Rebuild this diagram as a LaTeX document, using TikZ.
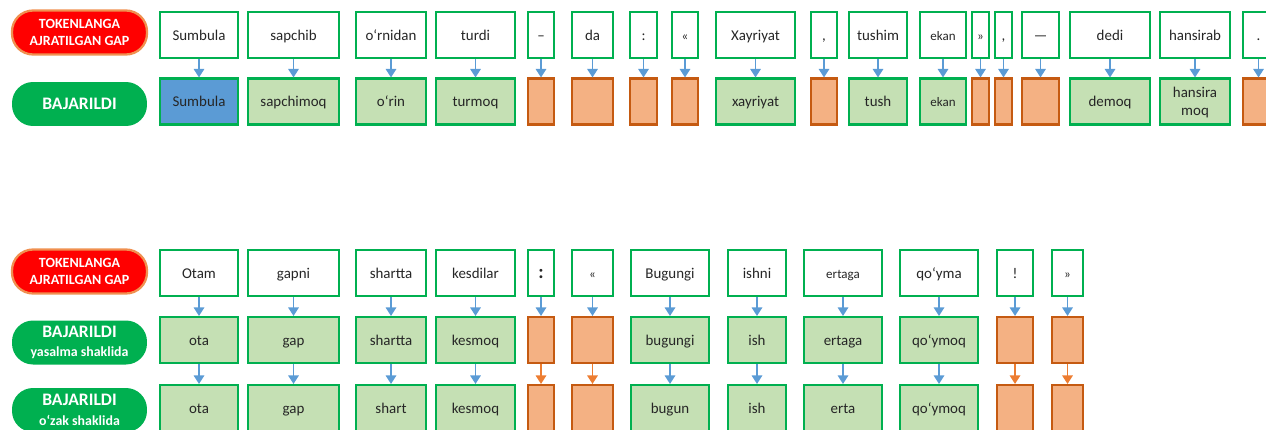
\documentclass[tikz,border=0pt]{standalone}
\usepackage{fontspec}
\setmainfont{Carlito}
\usetikzlibrary{arrows.meta}

\definecolor{okgreen}{HTML}{00B050}
\definecolor{lightgreen}{HTML}{C5E0B4}
\definecolor{skyblue}{HTML}{5B9BD5}
\definecolor{peach}{HTML}{F4B183}
\definecolor{rust}{HTML}{C55A11}
\definecolor{tangerine}{HTML}{ED7D31}
\definecolor{ink}{HTML}{262626}

\tikzset{
  cell/.style={draw=okgreen, line width=1.2pt, inner sep=0pt, minimum height=0.92cm,
    text height=1.5ex, text depth=.3ex, align=center, text=ink,
    font=\fontsize{8.5}{10}\selectfont},
  word/.style={cell, fill=white},
  found/.style={cell, fill=lightgreen},
  proper/.style={cell, fill=skyblue},
  punct/.style={cell, draw=rust, fill=peach},
  pill/.style={rounded corners=0.42cm, minimum width=2.7cm, minimum height=0.88cm,
    text=white, align=center, inner sep=0pt},
  redpill/.style={pill, fill=red, draw=tangerine!85, line width=1.3pt},
  greenpill/.style={pill, fill=okgreen},
  link/.style={-{Triangle[width=0.21cm,length=0.17cm]}, line width=0.8pt, draw=skyblue},
  found link/.style={link},
  punct link/.style={link, draw=tangerine},
}

\newcommand{\smalltok}{\fontsize{7.4}{8}\selectfont}
\newcommand{\twolines}[2]{\begin{tabular}{@{}c@{}}#1\\#2\end{tabular}}

\begin{document}
\begin{tikzpicture}[x=0.02cm, y=-0.02cm]
  \useasboundingbox (0,0) rectangle (1266,429);
  \clip (0,0) rectangle (1266,429);

  % first sentence
  \node[redpill, font=\bfseries\fontsize{8}{9.5}\selectfont] (tok1) at (79.5,32.5) {TOKENLANGA\\AJRATILGAN GAP};
  \node[greenpill, font=\bfseries\fontsize{10}{12}\selectfont] (done1) at (79.5,104) {BAJARILDI};

  \foreach \lx/\rx/\tok/\lem/\k [count=\i] in {
    159/239/Sumbula/Sumbula/proper,
    247/340/sapchib/sapchimoq/found,
    355/427/o‘rnidan/o‘rin/found,
    435/516/turdi/turmoq/found,
    527/555/–//punct,
    571/614/da//punct,
    629/658/://punct,
    671/699/{\smalltok «}//punct,
    715/796/Xayriyat/xayriyat/found,
    810/838/{,}//punct,
    848/908/tushim/tush/found,
    919/967/{\smalltok ekan}/{\smalltok ekan}/found,
    971/990/{\smalltok »}//punct,
    994/1013/{,}//punct,
    1021/1060/—//punct,
    1069/1151/dedi/demoq/found,
    1159/1231/hansirab/{\twolines{hansira}{moq}}/found,
    1242/1275/.//punct}{
    \node[word, minimum width={(\rx-\lx-2)*0.02cm}] (a\i) at ({(\lx+\rx)/2},35) {\tok};
    \node[\k, minimum width={(\rx-\lx-2)*0.02cm}] (b\i) at ({(\lx+\rx)/2},101.5) {\lem};
    \draw[link] (a\i) -- (b\i);
  }

  % second sentence
  \node[redpill, font=\bfseries\fontsize{8}{9.5}\selectfont] (tok2) at (79.5,271.5) {TOKENLANGA\\AJRATILGAN GAP};
  \node[greenpill, font=\bfseries\fontsize{10}{11}\selectfont] (done2) at (79.5,342.5)
    {BAJARILDI\\{\fontsize{7.9}{9}\selectfont yasalma shaklida}};
  \node[greenpill, font=\bfseries\fontsize{10}{11}\selectfont] (done3) at (79.5,410)
    {BAJARILDI\\{\fontsize{7.9}{9}\selectfont o‘zak shaklida}};

  \foreach \lx/\rx/\tok/\lem/\stem/\k [count=\i] in {
    159/239/Otam/ota/ota/found,
    247/340/gapni/gap/gap/found,
    355/427/shartta/shartta/shart/found,
    435/516/kesdilar/kesmoq/kesmoq/found,
    527/555/{\bfseries\fontsize{11}{12}\selectfont :}///punct,
    571/614/{\smalltok «}///punct,
    630/710/Bugungi/bugungi/bugun/found,
    727/787/ishni/ish/ish/found,
    803/883/{\smalltok ertaga}/ertaga/erta/found,
    899/979/qo‘yma/qo‘ymoq/qo‘ymoq/found,
    996/1034/!///punct,
    1051/1084/{\smalltok »}///punct}{
    \node[word, minimum width={(\rx-\lx-2)*0.02cm}] (c\i) at ({(\lx+\rx)/2},273) {\tok};
    \node[\k, minimum width={(\rx-\lx-2)*0.02cm}] (d\i) at ({(\lx+\rx)/2},340) {\lem};
    \node[\k, minimum width={(\rx-\lx-2)*0.02cm}] (e\i) at ({(\lx+\rx)/2},408) {\stem};
    \draw[link] (c\i) -- (d\i);
    \draw[\k\space link] (d\i) -- (e\i);
  }
\end{tikzpicture}
\end{document}
